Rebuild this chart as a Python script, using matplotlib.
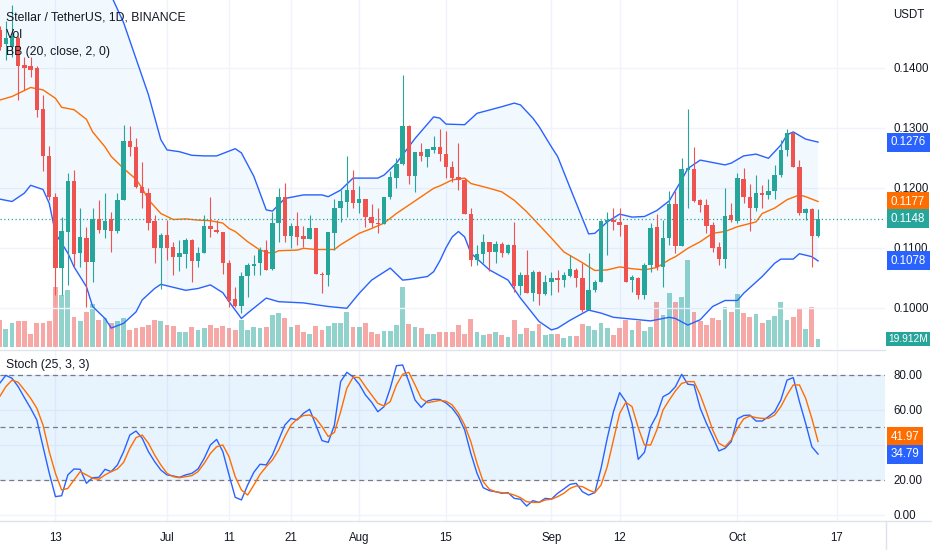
import matplotlib
matplotlib.use("Agg")
import matplotlib.pyplot as plt
import matplotlib.dates as mdates
from matplotlib.lines import Line2D
import numpy as np
import pandas as pd

plt.rcParams["font.family"] = ["Liberation Sans", "DejaVu Sans"]

# ---- data (daily XLM/USDT, Binance) ----
base_date = "2022-06-13"      # offsets below are days from this date
first_offset = -9             # first candle: Jun 4

opens = [
    0.1463, 0.1440, 0.1435, 0.1449, 0.1404, 0.1402, 0.1399, 0.1331, 0.1252, 0.1184,
    0.1067, 0.1127, 0.1211, 0.1092, 0.1117, 0.1077, 0.1148, 0.1129, 0.1148, 0.1128,
    0.1179, 0.1277, 0.1268, 0.1202, 0.1191, 0.1144, 0.1100, 0.1122, 0.1102, 0.1085,
    0.1090, 0.1113, 0.1078, 0.1092, 0.1136, 0.1130, 0.1127, 0.1074, 0.1014, 0.1003,
    0.1053, 0.1070, 0.1074, 0.1096, 0.1064, 0.1141, 0.1185, 0.1120, 0.1136, 0.1120,
    0.1114, 0.1133, 0.1057, 0.1055, 0.1125, 0.1166, 0.1177, 0.1196, 0.1174, 0.1182,
    0.1151, 0.1142, 0.1139, 0.1185, 0.1217, 0.1240, 0.1302, 0.1219, 0.1260, 0.1251,
    0.1262, 0.1267, 0.1256, 0.1234, 0.1218, 0.1213, 0.1157, 0.1080, 0.1090, 0.1109,
    0.1093, 0.1107, 0.1092, 0.1104, 0.1037, 0.1055, 0.1024, 0.1059, 0.1023, 0.1043,
    0.1050, 0.1046, 0.1053, 0.1063, 0.1050, 0.0997, 0.1029, 0.1043, 0.1143, 0.1147,
    0.1143, 0.1138, 0.1046, 0.1050, 0.1021, 0.1071, 0.1135, 0.1068, 0.1116, 0.1173,
    0.1103, 0.1230, 0.1231, 0.1179, 0.1171, 0.1138, 0.1102, 0.1081, 0.1154, 0.1145,
    0.1214, 0.1185, 0.1167, 0.1191, 0.1188, 0.1194, 0.1221, 0.1262, 0.1291, 0.1234,
    0.1158, 0.1164, 0.1119,
]
highs = [
    0.1470, 0.1477, 0.1504, 0.1452, 0.1418, 0.1418, 0.1402, 0.1354, 0.1270, 0.1192,
    0.1152, 0.1224, 0.1229, 0.1166, 0.1135, 0.1166, 0.1179, 0.1192, 0.1160, 0.1192,
    0.1304, 0.1302, 0.1283, 0.1243, 0.1199, 0.1154, 0.1124, 0.1146, 0.1110, 0.1113,
    0.1116, 0.1114, 0.1102, 0.1154, 0.1185, 0.1146, 0.1127, 0.1080, 0.1034, 0.1060,
    0.1074, 0.1088, 0.1102, 0.1113, 0.1160, 0.1200, 0.1208, 0.1142, 0.1160, 0.1136,
    0.1155, 0.1133, 0.1060, 0.1127, 0.1182, 0.1196, 0.1253, 0.1230, 0.1203, 0.1182,
    0.1173, 0.1166, 0.1185, 0.1227, 0.1249, 0.1388, 0.1305, 0.1260, 0.1274, 0.1265,
    0.1286, 0.1298, 0.1295, 0.1245, 0.1275, 0.1217, 0.1166, 0.1105, 0.1123, 0.1110,
    0.1112, 0.1110, 0.1107, 0.1143, 0.1060, 0.1096, 0.1063, 0.1061, 0.1054, 0.1060,
    0.1063, 0.1059, 0.1088, 0.1067, 0.1075, 0.1092, 0.1046, 0.1146, 0.1160, 0.1166,
    0.1166, 0.1138, 0.1055, 0.1052, 0.1075, 0.1141, 0.1157, 0.1146, 0.1194, 0.1194,
    0.1249, 0.1331, 0.1268, 0.1182, 0.1182, 0.1143, 0.1109, 0.1200, 0.1174, 0.1224,
    0.1232, 0.1206, 0.1221, 0.1204, 0.1214, 0.1238, 0.1280, 0.1297, 0.1293, 0.1246,
    0.1167, 0.1166, 0.1164,
]
lows = [
    0.1430, 0.1413, 0.1418, 0.1346, 0.1363, 0.1385, 0.1318, 0.1227, 0.1179, 0.1021,
    0.1021, 0.1038, 0.1068, 0.1068, 0.1002, 0.1043, 0.1124, 0.1116, 0.1093, 0.1124,
    0.1179, 0.1252, 0.1199, 0.1166, 0.1130, 0.1074, 0.1032, 0.1079, 0.1054, 0.1062,
    0.1066, 0.1043, 0.1068, 0.1091, 0.1118, 0.1124, 0.1057, 0.1002, 0.1002, 0.0991,
    0.1018, 0.1055, 0.1055, 0.1063, 0.1063, 0.1109, 0.1109, 0.1099, 0.1105, 0.1102,
    0.1114, 0.1057, 0.1024, 0.1036, 0.1096, 0.1143, 0.1152, 0.1167, 0.1158, 0.1135,
    0.1135, 0.1125, 0.1139, 0.1182, 0.1199, 0.1238, 0.1207, 0.1193, 0.1244, 0.1234,
    0.1257, 0.1244, 0.1216, 0.1210, 0.1196, 0.1157, 0.1069, 0.1071, 0.1075, 0.1062,
    0.1074, 0.1085, 0.1090, 0.1027, 0.1021, 0.1024, 0.1012, 0.1005, 0.1021, 0.1021,
    0.1027, 0.1035, 0.1052, 0.1035, 0.0993, 0.0996, 0.1027, 0.1043, 0.1088, 0.1129,
    0.1119, 0.1043, 0.1027, 0.1014, 0.1014, 0.1060, 0.1063, 0.1035, 0.1104, 0.1092,
    0.1103, 0.1167, 0.1177, 0.1160, 0.1124, 0.1093, 0.1071, 0.1067, 0.1143, 0.1142,
    0.1175, 0.1128, 0.1161, 0.1166, 0.1182, 0.1181, 0.1218, 0.1252, 0.1234, 0.1154,
    0.1147, 0.1068, 0.1118,
]
closes = [
    0.1435, 0.1450, 0.1452, 0.1402, 0.1399, 0.1396, 0.1330, 0.1252, 0.1184, 0.1067,
    0.1128, 0.1211, 0.1089, 0.1118, 0.1077, 0.1148, 0.1129, 0.1145, 0.1128, 0.1179,
    0.1277, 0.1268, 0.1202, 0.1191, 0.1142, 0.1100, 0.1122, 0.1100, 0.1085, 0.1091,
    0.1113, 0.1078, 0.1092, 0.1136, 0.1131, 0.1126, 0.1074, 0.1012, 0.1003, 0.1053,
    0.1072, 0.1073, 0.1096, 0.1063, 0.1142, 0.1185, 0.1120, 0.1136, 0.1118, 0.1114,
    0.1133, 0.1057, 0.1054, 0.1127, 0.1167, 0.1178, 0.1196, 0.1174, 0.1182, 0.1151,
    0.1141, 0.1139, 0.1185, 0.1218, 0.1240, 0.1302, 0.1219, 0.1260, 0.1252, 0.1265,
    0.1268, 0.1256, 0.1234, 0.1217, 0.1213, 0.1157, 0.1080, 0.1090, 0.1110, 0.1093,
    0.1107, 0.1092, 0.1105, 0.1037, 0.1055, 0.1024, 0.1059, 0.1023, 0.1043, 0.1050,
    0.1046, 0.1055, 0.1064, 0.1049, 0.0996, 0.1029, 0.1043, 0.1144, 0.1146, 0.1143,
    0.1138, 0.1043, 0.1052, 0.1022, 0.1071, 0.1133, 0.1068, 0.1116, 0.1173, 0.1103,
    0.1231, 0.1233, 0.1178, 0.1171, 0.1136, 0.1100, 0.1082, 0.1153, 0.1146, 0.1216,
    0.1184, 0.1167, 0.1192, 0.1188, 0.1194, 0.1222, 0.1262, 0.1291, 0.1234, 0.1158,
    0.1165, 0.1119, 0.1148,
]
volumes_m = [
    73, 47, 64, 69, 69, 36, 65, 65, 69, 164,
    141, 155, 82, 69, 96, 117, 74, 78, 64, 69,
    78, 45, 50, 55, 60, 73, 71, 60, 56, 41,
    41, 53, 45, 50, 60, 50, 56,
    52, 45, 73, 45, 53, 52, 53, 87, 93, 78,
    53, 60, 39, 36, 56, 45, 56, 64, 64, 96,
    53, 53, 64, 39, 36, 43, 43, 60, 162, 62,
    55, 52, 35, 35, 39, 39,
    39, 60, 35, 75, 39, 32, 34, 39, 32, 27,
    73, 34, 52, 44, 61, 32, 36, 34, 23, 29,
    29, 61, 56, 45, 64, 50, 32, 50, 74, 45,
    69, 43, 53, 123, 87,
    146, 123, 135, 237, 96, 69, 60, 78, 73, 109,
    96, 143, 93, 80, 89, 65, 73, 84, 121, 73,
    80, 103, 47, 107, 19.912,
]

# Bollinger Bands (20, close, 2): (day offset, value)
bb_upper_days = [-9, -5, -1, 3, 7, 9, 11, 13, 15, 17,
                 18, 20, 22, 24, 26, 29, 30, 32, 34, 35,
                 37, 40, 43, 44, 46, 48, 52, 53, 55, 58,
                 61, 62, 63, 66, 68, 72, 74, 75, 77, 78,
                 80, 81, 83, 86, 87, 89, 91, 93, 95, 97,
                 99, 101, 102, 104, 108, 109, 111, 113, 115, 117,
                 118, 119, 121, 123]
bb_upper = [0.158, 0.163, 0.166, 0.162, 0.156, 0.152, 0.1475, 0.1415, 0.1355, 0.1280,
            0.1263, 0.1260, 0.1254, 0.1253, 0.1253, 0.1265, 0.1258, 0.1219, 0.1163, 0.1161,
            0.1182, 0.1188, 0.1188, 0.1185, 0.1196, 0.1216, 0.1216, 0.1221, 0.1241, 0.1282,
            0.1318, 0.1316, 0.1306, 0.1305, 0.1324, 0.1335, 0.1341, 0.1338, 0.1316, 0.1302,
            0.1268, 0.1252, 0.1200, 0.1123, 0.1124, 0.1143, 0.1156, 0.1151, 0.1152, 0.1162,
            0.1178, 0.1213, 0.1232, 0.1246, 0.1238, 0.1241, 0.1253, 0.1256, 0.1249, 0.1271,
            0.1288, 0.1293, 0.1281, 0.1276]
bb_mid_days = [-9, -7, -5, -4, -2, 0, 1, 3, 5, 6,
               8, 9, 11, 13, 14, 15, 17, 19, 21, 23,
               25, 27, 28, 29, 31, 33, 35, 36, 39, 40,
               42, 45, 46, 49, 51, 53, 55, 57, 59, 61,
               62, 64, 66, 67, 70, 72, 74, 76, 78, 80,
               82, 85, 87, 89, 91, 93, 95, 97, 99, 100,
               102, 104, 106, 108, 110, 113, 114, 116, 118, 120,
               121, 123]
bb_mid = [0.1346, 0.1352, 0.1362, 0.1367, 0.1363, 0.1349, 0.1334, 0.1330, 0.1314, 0.1293,
          0.1268, 0.1252, 0.1232, 0.1214, 0.1199, 0.1180, 0.1157, 0.1147, 0.1148, 0.1146,
          0.1145, 0.1141, 0.1132, 0.1127, 0.1110, 0.1096, 0.1090, 0.1095, 0.1096, 0.1099,
          0.1097, 0.1097, 0.1105, 0.1124, 0.1132, 0.1141, 0.1157, 0.1171, 0.1185, 0.1199,
          0.1203, 0.1213, 0.1216, 0.1207, 0.1199, 0.1193, 0.1179, 0.1160, 0.1138, 0.1116,
          0.1093, 0.1075, 0.1062, 0.1063, 0.1068, 0.1065, 0.1063, 0.1067, 0.1080, 0.1085,
          0.1099, 0.1110, 0.1124, 0.1127, 0.1135, 0.1143, 0.1157, 0.1166, 0.1180, 0.1188,
          0.1185, 0.1177]
bb_lower_days = [-9, -7, -5, -4, -2, -1, 0, 2, 3, 5,
                 6, 8, 9, 11, 13, 14, 16, 17, 19, 21,
                 23, 25, 27, 28, 30, 31, 34, 36, 40, 44,
                 47, 49, 51, 54, 56, 57, 60, 61, 62, 63,
                 64, 65, 66, 67, 70, 73, 75, 78, 80, 81,
                 83, 86, 88, 90, 93, 96, 99, 100, 102, 104,
                 106, 108, 110, 111, 114, 116, 117, 119, 120, 122,
                 123]
bb_lower = [0.1181, 0.1177, 0.1191, 0.1204, 0.1197, 0.1174, 0.1124, 0.1091, 0.1068, 0.1035,
            0.1002, 0.0982, 0.0966, 0.0974, 0.0993, 0.1013, 0.1032, 0.1039, 0.1034, 0.1029,
            0.1032, 0.1038, 0.1025, 0.1010, 0.0982, 0.0991, 0.1016, 0.1010, 0.1008, 0.1002,
            0.0999, 0.1024, 0.1046, 0.1066, 0.1046, 0.1047, 0.1052, 0.1060, 0.1078, 0.1100,
            0.1118, 0.1127, 0.1118, 0.1091, 0.1063, 0.1046, 0.1016, 0.0977, 0.0963, 0.0966,
            0.0979, 0.0996, 0.0991, 0.0984, 0.0981, 0.0978, 0.0984, 0.0982, 0.0971, 0.0980,
            0.1002, 0.1012, 0.1012, 0.1024, 0.1052, 0.1074, 0.1081, 0.1081, 0.1090, 0.1085,
            0.1078]

# Stoch (25, 3, 3), one value per candle
stoch_k = [
    75.2, 79.8, 78.1, 73.3, 67.0, 61.0, 54.3, 39.0, 24.0, 10.5,
    11.0, 22.9, 26.3, 26.1, 18.1, 21.3, 21.5, 26.1, 24.8, 28.6,
    36.2, 45.7, 48.0, 43.8, 36.2, 30.5, 25.7, 22.9, 22.3, 21.5,
    22.9, 23.8, 26.3, 32.4, 40.0, 43.2, 36.2, 22.9, 10.1, 8.6,
    17.1, 24.4, 29.0, 28.6, 34.3, 42.9, 51.4, 55.2, 54.3, 58.1,
    60.4, 51.4, 42.5, 41.5, 51.4, 76.2, 81.5, 79.0, 74.7, 68.6,
    64.4, 59.0, 61.9, 72.4, 85.3, 85.7, 76.2, 65.7, 61.5, 65.1,
    66.1, 66.0, 64.0, 61.0, 56.2, 48.6, 35.2, 23.8, 15.6, 13.9,
    13.3, 12.4, 12.8, 9.5, 9.0, 5.1, 8.2, 7.2, 9.5, 9.1,
    12.4, 14.9, 17.5, 18.1, 13.3, 11.4, 12.8, 26.7, 43.8, 59.0,
    69.9, 64.8, 52.4, 31.8, 35.8, 50.5, 57.1, 67.6, 69.5, 73.3,
    80.4, 74.7, 74.3, 61.0, 52.4, 44.8, 36.6, 38.1, 41.9, 54.9,
    56.8, 57.1, 53.7, 53.7, 56.2, 59.0, 65.7, 77.1, 78.5, 64.8,
    52.4, 39.0, 34.79,
]
stoch_d = [
    67.6, 73.3, 77.1, 75.8, 71.4, 66.7, 61.0, 51.4, 36.2, 23.8,
    14.3, 15.2, 20.0, 24.8, 22.9, 21.0, 20.4, 22.9, 24.8, 26.3,
    30.1, 38.1, 44.2, 45.7, 41.0, 34.3, 28.6, 23.8, 21.9, 21.3,
    21.9, 22.5, 24.8, 29.5, 35.2, 39.0, 40.0, 33.3, 21.9, 14.3,
    11.4, 17.1, 23.2, 27.6, 31.4, 37.1, 44.8, 51.4, 54.9, 56.8,
    57.1, 55.2, 50.5, 44.8, 47.2, 59.0, 72.4, 78.7, 78.5, 73.3,
    68.6, 63.8, 62.3, 64.8, 74.3, 80.4, 81.5, 74.3, 66.7, 64.2,
    64.8, 65.5, 65.0, 62.9, 58.1, 51.4, 41.9, 29.5, 19.0, 14.7,
    13.3, 12.8, 12.4, 11.4, 9.9, 7.6, 7.2, 7.2, 8.6, 9.0,
    10.5, 12.4, 15.2, 16.6, 16.2, 14.3, 12.8, 17.1, 27.6, 42.9,
    58.1, 64.4, 61.9, 49.9, 40.0, 40.0, 48.6, 60.0, 65.7, 70.9,
    75.2, 76.2, 76.2, 68.6, 59.0, 48.6, 41.0, 39.0, 42.9, 49.5,
    54.9, 56.6, 55.6, 55.2, 55.2, 57.1, 61.9, 68.6, 74.3, 74.3,
    66.7, 55.2, 41.97,
]

tick_dates = ["2022-06-13", "2022-07-01", "2022-07-11", "2022-07-21", "2022-08-01",
              "2022-08-15", "2022-09-01", "2022-09-12", "2022-10-01", "2022-10-17"]
tick_labels = ["13", "Jul", "11", "21", "Aug", "15", "Sep", "12", "Oct", "17"]

# ---- style ----
UP = "#26a69a"
DOWN = "#ef5350"
BLUE = "#2962ff"
ORANGE = "#ff6d00"
TEXT = "#131722"
GRID = "#f0f3fa"
BORDER = "#e0e3eb"

W, H = 932, 550
x0 = mdates.date2num(pd.Timestamp(base_date))
xs = x0 + np.arange(first_offset, first_offset + len(closes))
o = np.array(opens); c = np.array(closes)
h = np.array(highs); l = np.array(lows)
cols = np.where(c >= o, UP, DOWN)
xlim = (x0 - 8.94, x0 + 133.8)
tick_x = [mdates.date2num(pd.Timestamp(d)) for d in tick_dates]

fig = plt.figure(figsize=(W / 100, H / 100), dpi=100)
fig.patch.set_facecolor("white")

right = 885 / W
main_rect = [0, (H - 349) / H, right, 349 / H]
stoch_rect = [0, (H - 521) / H, right, 170 / H]

# volume sits behind the price axes
ax_vol = fig.add_axes(main_rect)
ax = fig.add_axes(main_rect, sharex=ax_vol)
ax.patch.set_alpha(0)
ax_st = fig.add_axes(stoch_rect)

for a in (ax_vol, ax, ax_st):
    for s in a.spines.values():
        s.set_visible(False)
    a.set_xlim(*xlim)

ax_vol.set_ylim(-6.3, 946.5)
ax_vol.set_yticks([])
ax_vol.set_xticks(tick_x)
ax_vol.tick_params(axis="x", length=0, labelbottom=False)
ax_vol.grid(axis="x", color=GRID, lw=1)
ax_vol.set_axisbelow(True)
ax_vol.bar(xs, volumes_m, width=0.76, color=cols, alpha=0.5, lw=0)

# price pane
ax.set_ylim(0.093117, 0.151283)
ax.yaxis.tick_right()
ax.set_yticks([0.10, 0.11, 0.12, 0.13, 0.14])
ax.set_yticklabels(["0.1000", "0.1100", "0.1200", "0.1300", "0.1400"])
ax.tick_params(axis="y", length=0, pad=6, labelsize=8.3, labelcolor=TEXT)
ax.tick_params(axis="x", length=0, labelbottom=False)
for yv in [0.10, 0.11, 0.12, 0.13, 0.14]:
    ax.axhline(yv, color=GRID, lw=1, zorder=0)

ub_x = x0 + np.array(bb_upper_days)
lb_x = x0 + np.array(bb_lower_days)
mb_x = x0 + np.array(bb_mid_days)
ax.fill(np.concatenate([ub_x, lb_x[::-1]]),
        np.concatenate([bb_upper, bb_lower[::-1]]),
        color="#2196f3", alpha=0.06, lw=0, zorder=1)
ax.plot(ub_x, bb_upper, color=BLUE, lw=1, zorder=2)
ax.plot(lb_x, bb_lower, color=BLUE, lw=1, zorder=2)
ax.plot(mb_x, bb_mid, color=ORANGE, lw=1, zorder=2)

# candles
ax.vlines(xs, l, h, colors=cols, lw=0.8, zorder=3)
body_lo = np.minimum(o, c)
body_h = np.maximum(np.abs(c - o), 0.00012)
ax.bar(xs, body_h, bottom=body_lo, width=0.7, color=cols, lw=0, zorder=4)

# last price dotted line
ax.axhline(closes[-1], color=UP, lw=0.9, ls=(0, (1, 2)), zorder=2)

# pane titles
for i, t in enumerate(["Stellar / TetherUS, 1D, BINANCE", "Vol", "BB (20, close, 2, 0)"]):
    ax.text(6 / 885, 1 - (17 + 17.5 * i) / 349, t, transform=ax.transAxes,
            fontsize=8.8, color=TEXT, va="center", ha="left", zorder=6)


def price_tag(axis, y, text, color, dy=0, size=8.3, pad=0.3, dx=4.2):
    axis.annotate(text, xy=(1.0, y), xycoords=("axes fraction", "data"),
                  xytext=(dx, dy), textcoords="offset points",
                  ha="left", va="center", fontsize=size, color="white",
                  bbox=dict(boxstyle=f"square,pad={pad}", fc=color, ec="none"),
                  annotation_clip=False, zorder=10)


price_tag(ax, bb_upper[-1], "0.1276", BLUE)
price_tag(ax, bb_mid[-1], "0.1177", ORANGE)
price_tag(ax, closes[-1], "0.1148", UP)
price_tag(ax, bb_lower[-1], "0.1078", BLUE)
price_tag(ax_vol, volumes_m[-1], "19.912M", UP, size=7.4, pad=0.2, dx=2.2)
fig.text(893 / W, 1 - 15 / H, "USDT", fontsize=8.3, color=TEXT, va="center", ha="left")

# stochastic pane
ax_st.set_ylim(-3.43, 93.7)
ax_st.yaxis.tick_right()
ax_st.set_yticks([0, 20, 40, 60, 80])
ax_st.set_yticklabels(["0.00", "20.00", "", "60.00", "80.00"])
ax_st.tick_params(axis="y", length=0, pad=6, labelsize=8.3, labelcolor=TEXT)
ax_st.grid(axis="y", color=GRID, lw=1)
ax_st.set_xticks(tick_x)
ax_st.set_xticklabels(tick_labels)
ax_st.tick_params(axis="x", length=0, pad=8, labelsize=8.3, labelcolor=TEXT)
ax_st.grid(axis="x", color=GRID, lw=1)
ax_st.set_axisbelow(True)
ax_st.axhspan(20, 80, color="#2196f3", alpha=0.1, lw=0, zorder=1)
for lv in (80, 50, 20):
    ax_st.axhline(lv, color="#787b86", lw=0.9, ls=(0, (4, 3)), zorder=2)
ax_st.plot(xs, stoch_k, color=BLUE, lw=1, zorder=3)
ax_st.plot(xs, stoch_d, color=ORANGE, lw=1, zorder=3)
ax_st.text(6 / 885, 1 - 14 / 170, "Stoch (25, 3, 3)", transform=ax_st.transAxes,
           fontsize=8.8, color=TEXT, va="center", ha="left")
price_tag(ax_st, stoch_d[-1], "41.97", ORANGE, dy=3.5)
price_tag(ax_st, stoch_k[-1], "34.79", BLUE)

# pane separator and time-axis border
fig.add_artist(Line2D([0, right], [(H - 350) / H] * 2, color=BORDER, lw=1))
fig.add_artist(Line2D([0, 1], [(H - 521) / H] * 2, color=BORDER, lw=1))
fig.add_artist(Line2D([886 / W] * 2, [0, (H - 521) / H], color=BORDER, lw=1))

fig.savefig("out.png", dpi=100, facecolor="white")
